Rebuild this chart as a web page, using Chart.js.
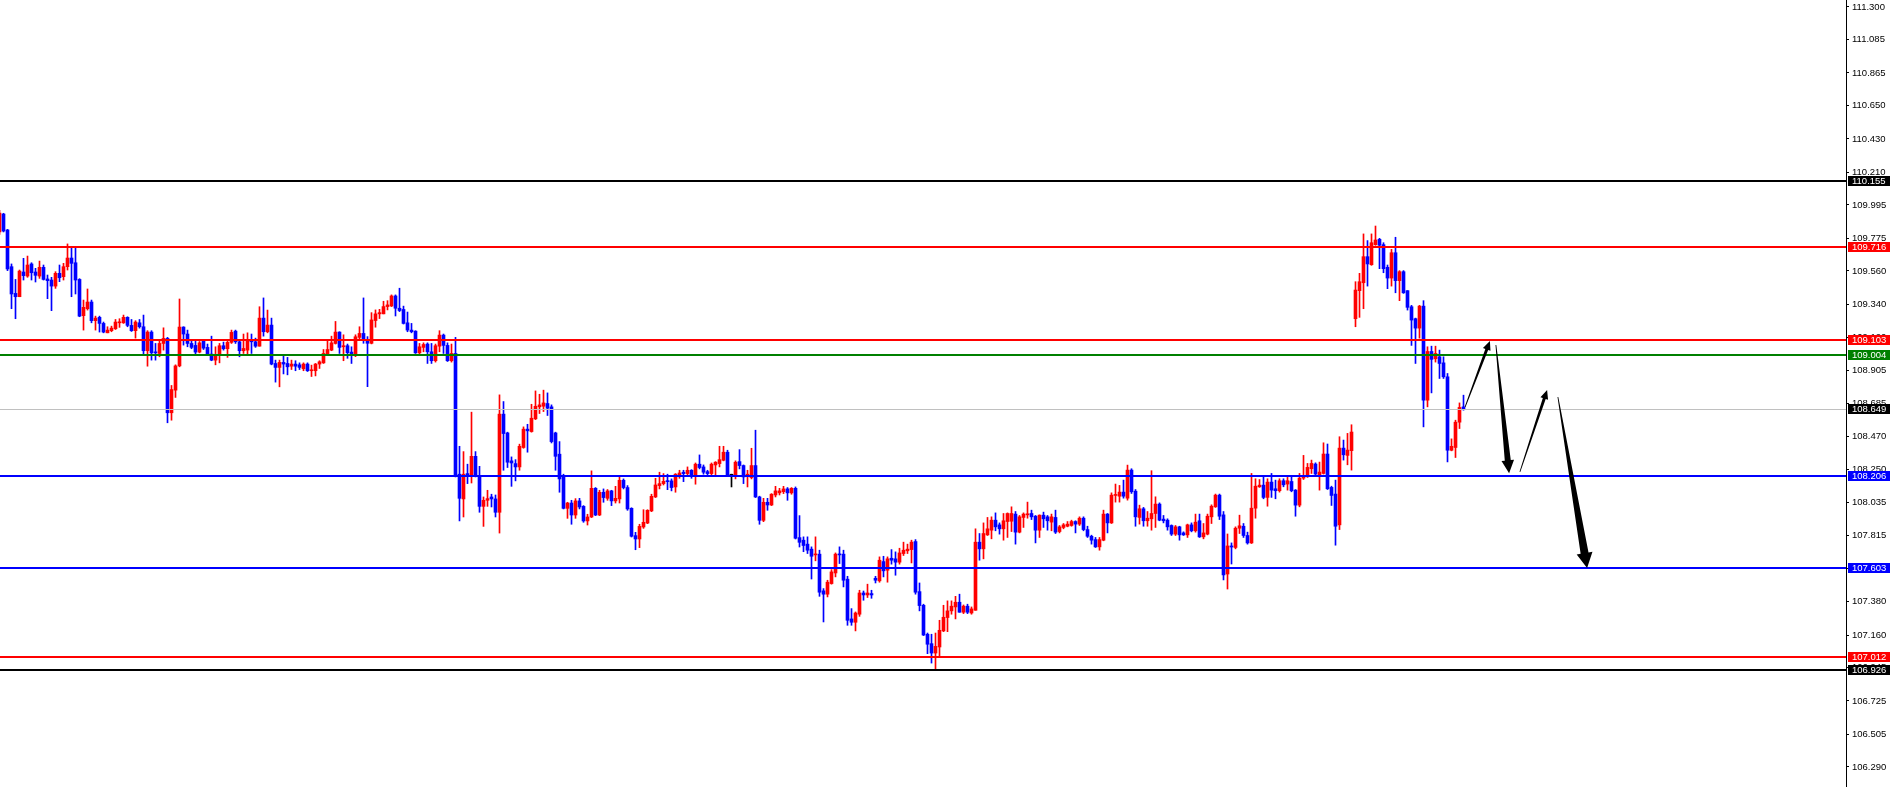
<!DOCTYPE html>
<html>
<head>
<meta charset="utf-8">
<script src="https://cdn.jsdelivr.net/npm/chart.js@4.4.1/dist/chart.umd.min.js"></script>
<style>
  html, body { margin: 0; padding: 0; background: #fff; }
  canvas { display: block; }
</style>
</head>
<body>
<canvas id="chart" width="1892" height="787"></canvas>
<script>
// candles, oldest first (bar index = position in array)
const opens = [
  109.817, 109.935, 109.830, 109.588, 109.412, 109.390, 109.553, 109.526, 109.606, 109.553,
  109.526, 109.584, 109.507, 109.500, 109.460, 109.544, 109.522, 109.588, 109.645, 109.614,
  109.504, 109.265, 109.311, 109.355, 109.232, 109.254, 109.214, 109.152, 109.166, 109.179,
  109.218, 109.218, 109.254, 109.201, 109.166, 109.218, 109.192, 109.034, 109.157, 109.025,
  109.016, 109.082, 109.115, 108.625, 108.774, 108.934, 109.190, 109.144, 109.082, 109.069,
  109.025, 109.100, 109.056, 109.012, 108.972, 109.003, 109.067, 109.047, 109.089, 109.163,
  109.093, 109.034, 109.038, 109.108, 109.093, 109.064, 109.249, 109.159, 109.203, 108.950,
  108.924, 108.957, 108.950, 108.932, 108.946, 108.941, 108.915, 108.946, 108.902, 108.902,
  108.946, 108.954, 109.012, 109.038, 109.082, 109.157, 109.060, 109.067, 109.025, 109.012,
  109.122, 109.148, 109.108, 109.083, 109.233, 109.277, 109.277, 109.325, 109.329, 109.395,
  109.314, 109.306, 109.218, 109.170, 109.163, 109.020, 109.056, 109.078, 109.027, 108.968,
  109.064, 109.137, 109.069, 108.968, 109.016, 108.220, 108.057, 108.224, 108.213, 108.338,
  108.211, 108.008, 108.048, 108.070, 108.057, 107.969, 108.616, 108.492, 108.308, 108.290,
  108.268, 108.396, 108.517, 108.501, 108.585, 108.664, 108.668, 108.686, 108.664, 108.492,
  108.352, 108.211, 107.995, 108.030, 107.951, 108.044, 108.008, 107.912, 107.938, 108.127,
  107.951, 108.101, 108.061, 108.110, 108.044, 108.057, 108.180, 108.132, 107.995, 107.815,
  107.793, 107.872, 107.898, 107.978, 108.070, 108.145, 108.158, 108.176, 108.176, 108.136,
  108.215, 108.233, 108.224, 108.246, 108.211, 108.286, 108.268, 108.237, 108.224, 108.281,
  108.290, 108.312, 108.365, 108.213, 108.211, 108.303, 108.277, 108.206, 108.198, 108.277,
  108.070, 107.916, 108.035, 108.017, 108.083, 108.097, 108.105, 108.123, 108.097, 108.127,
  107.802, 107.785, 107.759, 107.726, 107.688, 107.693, 107.451, 107.429, 107.499, 107.569,
  107.693, 107.693, 107.528, 107.266, 107.244, 107.297, 107.437, 107.424, 107.433, 107.534,
  107.517, 107.644, 107.587, 107.666, 107.662, 107.640, 107.697, 107.715, 107.723, 107.776,
  107.446, 107.356, 107.165, 107.103, 107.041, 107.081, 107.187, 107.275, 107.319, 107.345,
  107.376, 107.310, 107.350, 107.305, 107.323, 107.772, 107.728, 107.820, 107.851, 107.917,
  107.886, 107.860, 107.908, 107.910, 107.957, 107.838, 107.935, 107.952, 107.961, 107.943,
  107.851, 107.950, 107.939, 107.904, 107.935, 107.842, 107.869, 107.877, 107.882, 107.908,
  107.891, 107.930, 107.855, 107.811, 107.789, 107.741, 107.785, 107.957, 107.899, 108.080,
  108.075, 108.102, 108.062, 108.247, 108.108, 107.935, 107.992, 107.913, 107.926, 107.961,
  108.023, 107.924, 107.917, 107.882, 107.825, 107.873, 107.833, 107.820, 107.886, 107.847,
  107.913, 107.807, 107.825, 107.939, 108.005, 108.082, 107.952, 107.562, 107.747, 107.737,
  107.864, 107.877, 107.816, 107.767, 107.996, 108.137, 108.148, 108.067, 108.168, 108.124,
  108.111, 108.177, 108.155, 108.172, 108.115, 108.016, 108.194, 108.203, 108.256, 108.287,
  108.212, 108.225, 108.353, 108.133, 108.089, 107.886, 108.392, 108.344, 108.375, 109.245,
  109.430, 109.482, 109.654, 109.601, 109.733, 109.768, 109.733, 109.584, 109.513, 109.680,
  109.496, 109.555, 109.430, 109.324, 109.245, 109.183, 109.328, 108.708, 109.029, 108.981,
  108.994, 108.954, 108.862, 108.378, 108.396, 108.563, 108.664
];
const highs = [
  109.960, 109.940, 109.834, 109.606, 109.504, 109.566, 109.643, 109.658, 109.614, 109.577,
  109.625, 109.599, 109.533, 109.518, 109.555, 109.599, 109.610, 109.738, 109.720, 109.713,
  109.509, 109.368, 109.441, 109.368, 109.262, 109.262, 109.223, 109.192, 109.196, 109.240,
  109.245, 109.269, 109.258, 109.240, 109.232, 109.240, 109.269, 109.166, 109.166, 109.082,
  109.108, 109.185, 109.122, 108.805, 108.941, 109.375, 109.192, 109.170, 109.100, 109.104,
  109.095, 109.108, 109.078, 109.130, 109.060, 109.082, 109.091, 109.104, 109.170, 109.170,
  109.108, 109.144, 109.152, 109.144, 109.117, 109.324, 109.382, 109.302, 109.249, 108.972,
  108.972, 109.003, 108.990, 108.972, 108.968, 108.954, 108.954, 108.954, 108.939, 108.950,
  108.968, 109.042, 109.104, 109.130, 109.227, 109.159, 109.139, 109.078, 109.060, 109.139,
  109.192, 109.382, 109.127, 109.285, 109.303, 109.307, 109.360, 109.364, 109.402, 109.402,
  109.446, 109.328, 109.289, 109.214, 109.166, 109.082, 109.086, 109.086, 109.082, 109.078,
  109.166, 109.144, 109.086, 109.078, 109.122, 108.404, 108.369, 108.286, 108.629, 108.369,
  108.272, 108.070, 108.114, 108.088, 108.083, 108.743, 108.699, 108.497, 108.334, 108.316,
  108.418, 108.532, 108.549, 108.681, 108.769, 108.747, 108.774, 108.756, 108.677, 108.497,
  108.435, 108.220, 108.035, 108.048, 108.059, 108.061, 108.013, 107.956, 108.242, 108.132,
  108.114, 108.123, 108.119, 108.114, 108.140, 108.202, 108.189, 108.145, 107.999, 107.837,
  107.890, 107.986, 107.986, 108.088, 108.193, 108.233, 108.224, 108.220, 108.189, 108.224,
  108.246, 108.246, 108.268, 108.250, 108.294, 108.347, 108.281, 108.246, 108.294, 108.303,
  108.404, 108.404, 108.378, 108.220, 108.308, 108.382, 108.281, 108.246, 108.391, 108.510,
  108.075, 108.061, 108.061, 108.092, 108.140, 108.127, 108.140, 108.132, 108.132, 108.136,
  107.947, 107.807, 107.807, 107.741, 107.807, 107.719, 107.466, 107.521, 107.591, 107.701,
  107.741, 107.719, 107.547, 107.334, 107.312, 107.455, 107.450, 107.495, 107.455, 107.547,
  107.675, 107.679, 107.675, 107.723, 107.708, 107.732, 107.772, 107.759, 107.785, 107.789,
  107.503, 107.363, 107.173, 107.165, 107.173, 107.257, 107.356, 107.385, 107.385, 107.415,
  107.429, 107.358, 107.363, 107.345, 107.860, 107.829, 107.899, 107.935, 107.939, 107.965,
  107.899, 107.961, 107.965, 108.005, 107.974, 107.948, 107.965, 108.036, 107.983, 107.948,
  107.952, 107.970, 107.948, 107.957, 107.983, 107.882, 107.895, 107.908, 107.917, 107.913,
  107.939, 107.939, 107.877, 107.818, 107.803, 107.803, 107.983, 107.961, 108.097, 108.155,
  108.146, 108.181, 108.280, 108.256, 108.119, 108.016, 108.001, 107.974, 108.243, 108.071,
  108.031, 107.948, 107.926, 107.886, 107.882, 107.877, 107.840, 107.891, 107.899, 107.957,
  107.957, 107.895, 107.957, 108.018, 108.089, 108.089, 107.974, 107.826, 107.767, 107.873,
  107.950, 107.895, 107.838, 108.225, 108.190, 108.185, 108.203, 108.190, 108.225, 108.181,
  108.190, 108.190, 108.199, 108.203, 108.119, 108.225, 108.344, 108.291, 108.313, 108.295,
  108.300, 108.427, 108.419, 108.141, 108.181, 108.467, 108.445, 108.489, 108.546, 109.489,
  109.544, 109.804, 109.760, 109.804, 109.856, 109.775, 109.746, 109.599, 109.702, 109.782,
  109.562, 109.562, 109.430, 109.333, 109.249, 109.333, 109.364, 109.060, 109.064, 109.064,
  109.038, 108.994, 108.884, 108.453, 108.576, 108.690, 108.741
];
const lows = [
  109.800, 109.817, 109.562, 109.311, 109.245, 109.390, 109.500, 109.518, 109.500, 109.487,
  109.511, 109.500, 109.377, 109.298, 109.445, 109.489, 109.500, 109.566, 109.390, 109.408,
  109.258, 109.170, 109.302, 109.218, 109.170, 109.157, 109.152, 109.152, 109.159, 109.174,
  109.188, 109.214, 109.192, 109.161, 109.117, 109.183, 109.012, 108.932, 108.972, 108.972,
  108.994, 109.038, 108.559, 108.576, 108.726, 108.928, 109.071, 109.060, 109.047, 109.012,
  109.020, 109.042, 109.003, 108.968, 108.941, 108.954, 109.038, 108.990, 109.082, 109.082,
  108.994, 109.016, 109.012, 109.016, 109.056, 109.064, 109.130, 109.152, 108.941, 108.827,
  108.796, 108.881, 108.875, 108.910, 108.902, 108.910, 108.902, 108.897, 108.864, 108.868,
  108.917, 108.950, 109.006, 109.034, 109.078, 109.016, 108.968, 108.984, 108.950, 108.995,
  109.104, 109.083, 108.797, 109.079, 109.189, 109.246, 109.277, 109.303, 109.325, 109.263,
  109.292, 109.210, 109.159, 109.152, 109.016, 109.012, 109.027, 108.950, 108.950, 108.959,
  109.027, 109.016, 108.963, 108.959, 108.202, 107.912, 107.938, 108.158, 108.162, 108.202,
  107.969, 107.876, 108.008, 108.004, 107.938, 107.832, 108.246, 108.264, 108.140, 108.176,
  108.246, 108.391, 108.365, 108.497, 108.580, 108.620, 108.633, 108.607, 108.426, 108.246,
  108.101, 107.991, 107.929, 107.890, 107.929, 107.991, 107.903, 107.885, 107.934, 107.947,
  107.947, 108.035, 108.048, 108.013, 108.030, 108.030, 108.123, 107.982, 107.806, 107.722,
  107.736, 107.863, 107.894, 107.973, 108.066, 108.123, 108.149, 108.118, 108.110, 108.101,
  108.193, 108.171, 108.211, 108.193, 108.154, 108.255, 108.220, 108.215, 108.211, 108.211,
  108.268, 108.308, 108.206, 108.136, 108.189, 108.255, 108.158, 108.136, 108.189, 108.066,
  107.890, 107.907, 107.982, 108.013, 108.070, 108.083, 108.092, 108.048, 108.088, 107.793,
  107.740, 107.709, 107.697, 107.529, 107.649, 107.415, 107.246, 107.411, 107.495, 107.543,
  107.631, 107.477, 107.224, 107.224, 107.187, 107.283, 107.389, 107.407, 107.402, 107.503,
  107.508, 107.543, 107.508, 107.627, 107.554, 107.627, 107.684, 107.697, 107.635, 107.429,
  107.319, 107.156, 107.037, 106.975, 106.936, 107.015, 107.182, 107.182, 107.297, 107.266,
  107.310, 107.301, 107.301, 107.297, 107.323, 107.653, 107.662, 107.816, 107.794, 107.847,
  107.825, 107.785, 107.803, 107.842, 107.759, 107.833, 107.869, 107.930, 107.921, 107.767,
  107.803, 107.869, 107.851, 107.847, 107.829, 107.833, 107.860, 107.873, 107.877, 107.833,
  107.882, 107.847, 107.803, 107.759, 107.737, 107.719, 107.781, 107.833, 107.895, 108.036,
  108.036, 108.062, 108.049, 108.093, 107.877, 107.891, 107.877, 107.877, 107.851, 107.869,
  107.913, 107.899, 107.851, 107.816, 107.816, 107.785, 107.816, 107.803, 107.840, 107.838,
  107.803, 107.794, 107.820, 107.895, 108.001, 107.921, 107.523, 107.463, 107.628, 107.728,
  107.829, 107.803, 107.759, 107.763, 107.930, 108.133, 108.058, 108.009, 108.067, 108.058,
  108.102, 108.137, 108.115, 108.104, 107.943, 108.005, 108.185, 108.199, 108.225, 108.212,
  108.115, 108.221, 108.119, 108.014, 107.752, 107.855, 108.313, 108.282, 108.247, 109.192,
  109.254, 109.311, 109.460, 109.597, 109.729, 109.575, 109.548, 109.443, 109.460, 109.416,
  109.364, 109.412, 109.302, 109.069, 108.950, 109.117, 108.532, 108.664, 108.756, 108.959,
  108.851, 108.851, 108.301, 108.374, 108.330, 108.521, 108.642
];
const closes = [
  109.942, 109.823, 109.573, 109.408, 109.390, 109.559, 109.529, 109.599, 109.548, 109.531,
  109.584, 109.504, 109.496, 109.460, 109.544, 109.515, 109.588, 109.645, 109.610, 109.500,
  109.262, 109.320, 109.355, 109.232, 109.249, 109.214, 109.157, 109.170, 109.183, 109.223,
  109.223, 109.254, 109.201, 109.166, 109.223, 109.192, 109.034, 109.157, 109.020, 109.020,
  109.082, 109.115, 108.625, 108.778, 108.934, 109.190, 109.144, 109.082, 109.056, 109.025,
  109.086, 109.051, 109.012, 108.972, 109.003, 109.067, 109.047, 109.089, 109.155, 109.093,
  109.034, 109.049, 109.108, 109.093, 109.064, 109.249, 109.159, 109.203, 108.946, 108.924,
  108.957, 108.946, 108.928, 108.946, 108.932, 108.924, 108.946, 108.902, 108.906, 108.946,
  108.961, 109.016, 109.042, 109.086, 109.157, 109.056, 109.067, 109.021, 109.012, 109.126,
  109.148, 109.104, 109.083, 109.237, 109.277, 109.285, 109.325, 109.336, 109.395, 109.314,
  109.299, 109.214, 109.170, 109.159, 109.020, 109.060, 109.075, 109.027, 108.968, 109.067,
  109.137, 109.069, 108.968, 109.016, 108.206, 108.061, 108.220, 108.211, 108.338, 108.211,
  108.008, 108.048, 108.059, 108.057, 107.969, 108.616, 108.488, 108.299, 108.294, 108.268,
  108.404, 108.517, 108.506, 108.589, 108.668, 108.677, 108.690, 108.655, 108.435, 108.338,
  108.189, 107.995, 108.030, 107.951, 108.044, 108.004, 107.912, 107.938, 108.127, 107.951,
  108.101, 108.066, 108.110, 108.044, 108.061, 108.180, 108.132, 107.991, 107.811, 107.793,
  107.876, 107.903, 107.982, 108.074, 108.149, 108.158, 108.173, 108.171, 108.132, 108.220,
  108.228, 108.224, 108.246, 108.211, 108.286, 108.264, 108.233, 108.224, 108.286, 108.299,
  108.316, 108.365, 108.211, 108.213, 108.299, 108.277, 108.202, 108.220, 108.277, 108.070,
  107.916, 108.035, 108.017, 108.088, 108.110, 108.110, 108.123, 108.097, 108.127, 107.798,
  107.771, 107.750, 107.719, 107.679, 107.693, 107.442, 107.429, 107.508, 107.576, 107.693,
  107.688, 107.521, 107.257, 107.244, 107.305, 107.437, 107.424, 107.437, 107.424, 107.521,
  107.653, 107.583, 107.662, 107.653, 107.640, 107.701, 107.719, 107.726, 107.772, 107.442,
  107.354, 107.160, 107.099, 107.041, 107.085, 107.191, 107.277, 107.319, 107.350, 107.376,
  107.310, 107.350, 107.310, 107.332, 107.772, 107.728, 107.829, 107.860, 107.917, 107.873,
  107.860, 107.913, 107.961, 107.961, 107.838, 107.939, 107.957, 107.959, 107.939, 107.851,
  107.950, 107.926, 107.913, 107.939, 107.838, 107.873, 107.886, 107.891, 107.908, 107.891,
  107.930, 107.855, 107.811, 107.785, 107.741, 107.789, 107.957, 107.899, 108.082, 108.084,
  108.102, 108.075, 108.247, 108.104, 107.939, 107.992, 107.913, 107.930, 107.961, 108.023,
  107.917, 107.913, 107.873, 107.825, 107.873, 107.820, 107.820, 107.886, 107.847, 107.904,
  107.807, 107.833, 107.943, 108.009, 108.082, 107.943, 107.556, 107.747, 107.740, 107.864,
  107.880, 107.816, 107.767, 107.996, 108.141, 108.148, 108.067, 108.168, 108.115, 108.111,
  108.177, 108.150, 108.177, 108.111, 108.016, 108.194, 108.203, 108.265, 108.291, 108.221,
  108.234, 108.353, 108.124, 108.080, 107.877, 108.392, 108.348, 108.379, 108.498, 109.434,
  109.489, 109.654, 109.606, 109.746, 109.764, 109.729, 109.575, 109.513, 109.680, 109.496,
  109.555, 109.416, 109.320, 109.236, 109.183, 109.328, 108.708, 109.029, 108.977, 109.016,
  108.950, 108.862, 108.378, 108.404, 108.563, 108.660, 108.646
];

// price axis labels as printed on the right
const tickLabels = [
  '111.300', '111.085', '110.865', '110.650', '110.430', '110.210', '109.995', '109.775',
  '109.560', '109.340', '109.120', '108.905', '108.685', '108.470', '108.250', '108.035',
  '107.815', '107.600', '107.380', '107.160', '106.945', '106.725', '106.505', '106.290'
];

// horizontal levels with their price tags
const levelPrices = [110.155, 109.716, 109.103, 109.004, 108.649, 108.206, 107.603, 107.012, 106.926];

// forecast arrows: bar index / price of tail and tip
const arrowFromBar = [366.4, 374.1, 380.1, 389.6];
const arrowFromPrice = [108.663, 109.072, 108.235, 108.729];
const arrowToBar = [372.6, 377.4, 386.9, 396.9];
const arrowToPrice = [109.098, 108.226, 108.775, 107.602];

// styles
const UP = '#ff0000', DOWN = '#0000ff', FLAT = '#000000';
const levelStyle = [
  { line: '#000000', tag: '#000000', w: 2 },
  { line: '#ff0000', tag: '#ff0000', w: 2 },
  { line: '#ff0000', tag: '#ff0000', w: 2 },
  { line: '#008000', tag: '#008000', w: 2 },
  { line: '#c0c0c0', tag: '#000000', w: 1 },
  { line: '#0000ff', tag: '#0000ff', w: 2 },
  { line: '#0000ff', tag: '#0000ff', w: 2 },
  { line: '#ff0000', tag: '#ff0000', w: 2 },
  { line: '#000000', tag: '#000000', w: 2 }
];
const arrowStyle = [
  { shaft: 1.5, headW: 4, headL: 9 },
  { shaft: 3, headW: 6.3, headL: 13 },
  { shaft: 1.5, headW: 4, headL: 9 },
  { shaft: 4, headW: 8, headL: 15 }
];
const FONT_FAMILY = '"Liberation Sans", Arial, sans-serif';
const FONT_SIZE = 9.5;

const candleColor = i => closes[i] > opens[i] ? UP : (closes[i] < opens[i] ? DOWN : FLAT);
const wicks = lows.map((l, i) => ({ x: i, y: [l, highs[i]] }));
const bodies = opens.map((o, i) => ({ x: i, y: [o, closes[i]] }));

function drawArrow(ctx, sx, sy, ex, ey, st) {
  const dx = ex - sx, dy = ey - sy, len = Math.hypot(dx, dy);
  const ux = dx / len, uy = dy / len, nx = -uy, ny = ux;
  const bx = ex - ux * st.headL, by = ey - uy * st.headL;
  ctx.beginPath();
  ctx.moveTo(sx + nx * 0.4, sy + ny * 0.4);
  ctx.lineTo(bx + nx * st.shaft, by + ny * st.shaft);
  ctx.lineTo(bx + nx * st.headW, by + ny * st.headW);
  ctx.lineTo(ex, ey);
  ctx.lineTo(bx - nx * st.headW, by - ny * st.headW);
  ctx.lineTo(bx - nx * st.shaft, by - ny * st.shaft);
  ctx.lineTo(sx - nx * 0.4, sy - ny * 0.4);
  ctx.closePath();
  ctx.fill();
}

const overlay = {
  id: 'overlay',
  afterDatasetsDraw(chart) {
    const { ctx, chartArea: a } = chart;
    const xs = chart.scales.x, ys = chart.scales.y;
    ctx.save();
    ctx.beginPath();
    ctx.rect(a.left, a.top, a.right - a.left, a.bottom - a.top);
    ctx.clip();
    levelPrices.forEach((p, i) => {
      const st = levelStyle[i];
      const y = Math.round(ys.getPixelForValue(p));
      ctx.fillStyle = st.line;
      ctx.fillRect(a.left, st.w === 1 ? y : y - 1, a.right - a.left, st.w);
    });
    ctx.fillStyle = '#000000';
    arrowFromBar.forEach((b, i) => {
      drawArrow(ctx,
        xs.getPixelForValue(b), ys.getPixelForValue(arrowFromPrice[i]),
        xs.getPixelForValue(arrowToBar[i]), ys.getPixelForValue(arrowToPrice[i]),
        arrowStyle[i]);
    });
    ctx.restore();
  },
  afterDraw(chart) {
    const { ctx, chartArea: a } = chart;
    const ys = chart.scales.y;
    ctx.save();
    ctx.font = FONT_SIZE + 'px ' + FONT_FAMILY;
    ctx.textBaseline = 'middle';
    ctx.textAlign = 'left';
    levelPrices.forEach((p, i) => {
      const y = Math.round(ys.getPixelForValue(p));
      ctx.fillStyle = levelStyle[i].tag;
      ctx.fillRect(a.right + 2, y - 5, 42, 10);
      ctx.fillStyle = '#ffffff';
      ctx.fillText(p.toFixed(3), a.right + 6, y + 0.5);
    });
    ctx.restore();
  }
};

new Chart(document.getElementById('chart'), {
  type: 'bar',
  data: {
    datasets: [{
      data: wicks,
      backgroundColor: c => candleColor(c.dataIndex),
      barThickness: 1,
      grouped: false,
      borderWidth: 0,
      order: 2
    }, {
      data: bodies,
      backgroundColor: c => candleColor(c.dataIndex),
      barThickness: 3,
      minBarLength: 1,
      grouped: false,
      borderWidth: 0,
      order: 1
    }]
  },
  options: {
    responsive: false,
    devicePixelRatio: 1,
    animation: false,
    events: [],
    layout: { padding: 0 },
    plugins: { legend: { display: false }, tooltip: { enabled: false } },
    scales: {
      x: {
        type: 'linear',
        display: false,
        offset: false,
        min: 0.125,
        max: 461.625
      },
      y: {
        type: 'linear',
        position: 'right',
        min: 106.158,
        max: 111.346,
        beginAtZero: false,
        grid: { drawOnChartArea: false, tickLength: 3, color: '#000000' },
        border: { display: true, color: '#000000', width: 1 },
        ticks: {
          autoSkip: false,
          padding: 3,
          color: '#000000',
          font: { family: FONT_FAMILY, size: FONT_SIZE },
          callback: v => v.toFixed(3)
        },
        afterBuildTicks: s => {
          s.ticks = tickLabels.map(Number).sort((a, b) => a - b).map(v => ({ value: v }));
        },
        afterFit: s => {
          s.width = 46;
          s.paddingTop = 0;
          s.paddingBottom = 0;
        }
      }
    }
  },
  plugins: [overlay]
});
</script>
</body>
</html>
